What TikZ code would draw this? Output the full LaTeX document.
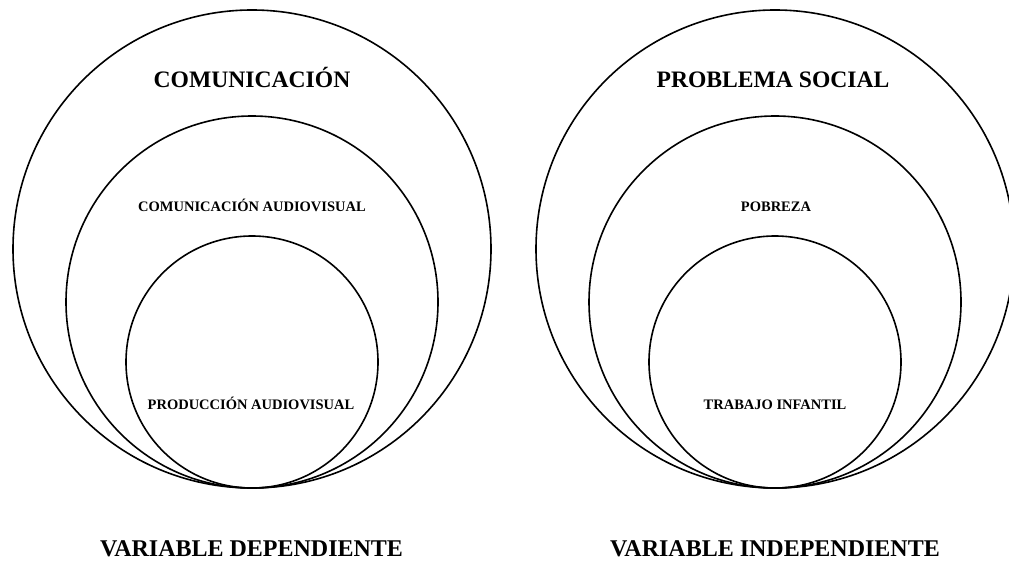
\documentclass[tikz,border=0pt]{standalone}
\usepackage{fontspec}
\setmainfont{Liberation Serif}
\usepackage{tikz}

\begin{document}
\begin{tikzpicture}[x=1pt, y=-1pt,
		ring/.style={circle, draw, line width=1.6pt, inner sep=0pt},
		bigtitle/.style={anchor=base, font=\bfseries\fontsize{23.6}{28}\selectfont},
		smalltitle/.style={anchor=base, font=\bfseries\fontsize{14.5}{17}\selectfont},
		vartitle/.style={anchor=base, font=\bfseries\fontsize{24}{28}\selectfont}]
			\useasboundingbox (0,0) rectangle (1009,567);
			% Circles (all touching at the bottom)
			\foreach \side/\cx in {L/252, R/775} {
				\node[ring, minimum size=478pt] (outer\side) at (\cx, 249) {};
				\node[ring, minimum size=372pt] (middle\side) at (\cx, 302) {};
				\node[ring, minimum size=252pt] (inner\side) at (\cx, 362) {};
			}
			% Labels
			\node[bigtitle] (comunicacion) at (252, 88) {COMUNICACIÓN};
			\node[smalltitle] (comAudiovisual) at (252, 211) {COMUNICACIÓN AUDIOVISUAL};
			\node[smalltitle] (prodAudiovisual) at (251, 409.5) {PRODUCCIÓN AUDIOVISUAL};
			\node[bigtitle] (problemaSocial) at (773, 88) {PROBLEMA SOCIAL};
			\node[smalltitle] (pobreza) at (776, 211) {POBREZA};
			\node[smalltitle] (trabajoInfantil) at (775, 409.5) {TRABAJO INFANTIL};
			\node[vartitle] (varDep) at (251.5, 556) {VARIABLE DEPENDIENTE};
			\node[vartitle] (varIndep) at (775, 556) {VARIABLE INDEPENDIENTE};
		\end{tikzpicture}
\end{document}
